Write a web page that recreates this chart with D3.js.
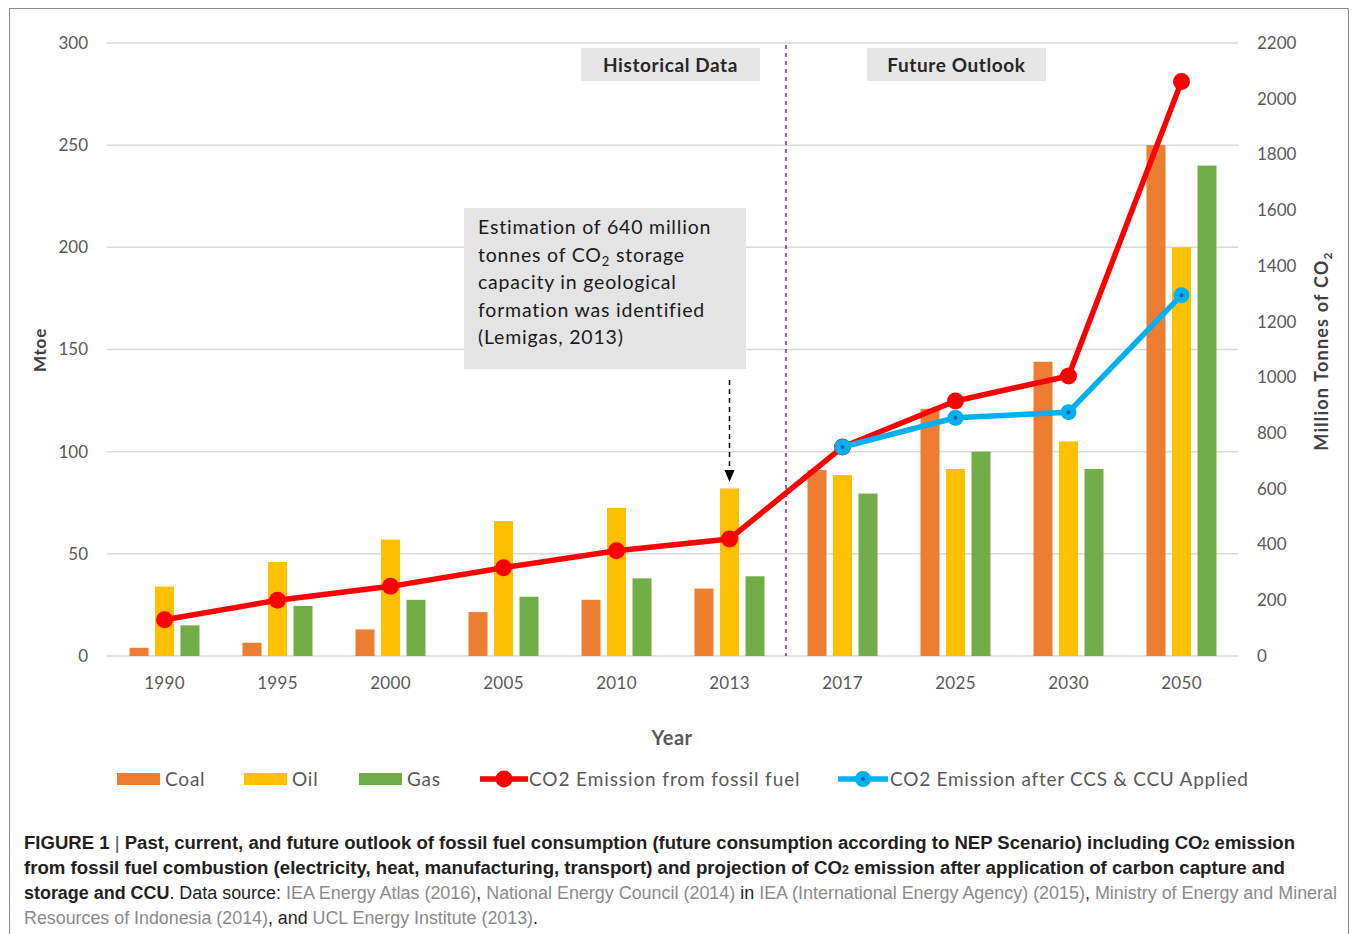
<!DOCTYPE html>
<html>
<head>
<meta charset="utf-8">
<script src="https://cdn.jsdelivr.net/npm/d3@7"></script>
<style>
  body { margin: 0; background: #fff; }
  svg text { font-family: Lato, "Open Sans", sans-serif; }
  .cap { font-family: "Liberation Sans", Arial, sans-serif !important; }
</style>
</head>
<body>
<div id="chart"></div>
<script>
// data
var years = ["1990", "1995", "2000", "2005", "2010", "2013", "2017", "2025", "2030", "2050"];
var coal = [4, 6.5, 13, 21.5, 27.5, 33, 91, 121, 144, 250];
var oil = [34, 46, 57, 66, 72.5, 82, 88.5, 91.5, 105, 200];
var gas = [15, 24.5, 27.5, 29, 38, 39, 79.5, 100, 91.5, 240];
var co2Fossil = [130, 200, 250, 317, 378, 420, 750, 915, 1005, 2062];
var co2Ccs = [null, null, null, null, null, null, 750, 855, 875, 1295];
var leftTicks = [0, 50, 100, 150, 200, 250, 300];
var rightTicks = [0, 200, 400, 600, 800, 1000, 1200, 1400, 1600, 1800, 2000, 2200];
var seriesNames = ["Coal", "Oil", "Gas"];
var seriesColors = {Coal: "#ED7D31", Oil: "#FFC000", Gas: "#70AD47"};

var W = 1358, H = 934;
var svg = d3.select("#chart").append("svg").attr("width", W).attr("height", H);

// outer frame
svg.append("path").attr("d", "M9.5,934 V8.5 H1348.5 V934")
  .attr("fill", "none").attr("stroke", "#8c8c8c").attr("stroke-width", 1);

var x = d3.scaleBand().domain(years).range([108, 1238]);
var xSub = d3.scaleBand().domain(seriesNames).range([-35, 35]).paddingInner(0.255);
var yL = d3.scaleLinear().domain([0, 300]).range([656, 43]);
var yR = d3.scaleLinear().domain([0, 2200]).range([656, 43]);

// gridlines
svg.append("g").selectAll("line").data(leftTicks).enter().append("line")
  .attr("x1", 107).attr("x2", 1238)
  .attr("y1", function (d) { return yL(d); }).attr("y2", function (d) { return yL(d); })
  .attr("stroke", "#d9d9d9").attr("stroke-width", 1.5);

// left axis
var axL = svg.append("g").attr("transform", "translate(96,0)")
  .call(d3.axisLeft(yL).tickValues(leftTicks).tickSize(0).tickPadding(8));
axL.select(".domain").remove();
axL.selectAll("text").attr("font-size", 17).attr("fill", "#595959").style("font-family", "Lato");

// right axis
var axR = svg.append("g").attr("transform", "translate(1249,0)")
  .call(d3.axisRight(yR).tickValues(rightTicks).tickFormat(d3.format("d")).tickSize(0).tickPadding(8));
axR.select(".domain").remove();
axR.selectAll("text").attr("font-size", 17).attr("fill", "#595959").style("font-family", "Lato");

// x axis
var axX = svg.append("g").attr("transform", "translate(0,660)")
  .call(d3.axisBottom(x).tickSize(0).tickPadding(17));
axX.select(".domain").remove();
axX.selectAll("text").attr("font-size", 17).attr("fill", "#595959").style("font-family", "Lato")
  .attr("letter-spacing", 0.3);

// bars
var barData = [];
years.forEach(function (yr, i) {
  barData.push({year: yr, s: "Coal", v: coal[i]});
  barData.push({year: yr, s: "Oil", v: oil[i]});
  barData.push({year: yr, s: "Gas", v: gas[i]});
});
svg.append("g").selectAll("rect").data(barData).enter().append("rect")
  .attr("x", function (d) { return x(d.year) + x.bandwidth() / 2 + xSub(d.s); })
  .attr("y", function (d) { return yL(d.v); })
  .attr("width", xSub.bandwidth())
  .attr("height", function (d) { return yL(0) - yL(d.v); })
  .attr("fill", function (d) { return seriesColors[d.s]; });

// divider historical / future
var divX = x("2017");
svg.append("line").attr("x1", divX).attr("x2", divX).attr("y1", 45).attr("y2", 656)
  .attr("stroke", "#7030A0").attr("stroke-width", 1.5).attr("stroke-dasharray", "4,4");

// header boxes
function headerBox(x0, w, label) {
  svg.append("rect").attr("x", x0).attr("y", 48).attr("width", w).attr("height", 33).attr("fill", "#e7e6e6");
  svg.append("text").attr("x", x0 + w / 2).attr("y", 72).attr("text-anchor", "middle")
    .attr("font-size", 19).attr("font-weight", "bold").attr("fill", "#262626")
    .attr("letter-spacing", 0.6).text(label);
}
headerBox(581, 179, "Historical  Data");
headerBox(867, 179, "Future Outlook");

// CO2 lines
var cx = function (d) { return x(d.year) + x.bandwidth() / 2; };
var fossilPts = years.map(function (yr, i) { return {year: yr, v: co2Fossil[i]}; });
var ccsPts = years.map(function (yr, i) { return {year: yr, v: co2Ccs[i]}; }).filter(function (d) { return d.v !== null; });
var line = d3.line().x(cx).y(function (d) { return yR(d.v); });

svg.append("path").datum(fossilPts).attr("d", line).attr("fill", "none")
  .attr("stroke", "#FF0000").attr("stroke-width", 5.5).attr("stroke-linejoin", "round");
svg.append("g").selectAll("circle").data(fossilPts).enter().append("circle")
  .attr("cx", cx).attr("cy", function (d) { return yR(d.v); }).attr("r", 8.5).attr("fill", "#FF0000");

svg.append("path").datum(ccsPts).attr("d", line).attr("fill", "none")
  .attr("stroke", "#00B0F0").attr("stroke-width", 5.5).attr("stroke-linejoin", "round");
var ccsG = svg.append("g");
ccsG.selectAll("circle.o").data(ccsPts).enter().append("circle")
  .attr("cx", cx).attr("cy", function (d) { return yR(d.v); }).attr("r", 8).attr("fill", "#00B0F0");
ccsG.selectAll("circle.i").data(ccsPts).enter().append("circle")
  .attr("cx", cx).attr("cy", function (d) { return yR(d.v); }).attr("r", 2).attr("fill", "#1f5fa0");

// annotation
svg.append("rect").attr("x", 464).attr("y", 208).attr("width", 282).attr("height", 161).attr("fill", "#e4e4e4");
var ann = svg.append("text").attr("font-size", 19.5).attr("fill", "#1a1a1a").attr("letter-spacing", 0.8);
ann.append("tspan").attr("x", 478).attr("y", 234).text("Estimation of 640 million");
var t2 = ann.append("tspan").attr("x", 478).attr("y", 262).text("tonnes of CO");
t2.append("tspan").attr("font-size", 13).attr("dy", 4).text("2");
t2.append("tspan").attr("dy", -4).text(" storage");
ann.append("tspan").attr("x", 478).attr("y", 289).text("capacity in geological");
ann.append("tspan").attr("x", 478).attr("y", 317).text("formation  was identified");
ann.append("tspan").attr("x", 478).attr("y", 344).text("(Lemigas, 2013)");

var arrowX = x("2013") + x.bandwidth() / 2;
svg.append("line").attr("x1", arrowX).attr("x2", arrowX).attr("y1", 380).attr("y2", 472)
  .attr("stroke", "#000").attr("stroke-width", 1.5).attr("stroke-dasharray", "5,4");
svg.append("path").attr("d", "M" + (arrowX - 5) + ",470 L" + (arrowX + 5) + ",470 L" + arrowX + ",482 Z").attr("fill", "#000");

// axis titles
svg.append("text").attr("transform", "translate(46,350) rotate(-90)").attr("text-anchor", "middle")
  .attr("font-size", 17).attr("font-weight", "bold").attr("fill", "#404040").attr("letter-spacing", 0.8).text("Mtoe");
var rt = svg.append("text").attr("transform", "translate(1328,351) rotate(-90)").attr("text-anchor", "middle")
  .attr("font-size", 18).attr("font-weight", "bold").attr("fill", "#404040").attr("letter-spacing", 1.2);
rt.append("tspan").text("Million  Tonnes of CO");
rt.append("tspan").attr("font-size", 12).attr("dy", 4).text("2");
svg.append("text").attr("x", 672).attr("y", 745).attr("text-anchor", "middle")
  .attr("font-size", 20).attr("font-weight", "bold").attr("fill", "#595959").attr("letter-spacing", 0.5).text("Year");

// legend
var lg = svg.append("g");
var legendRects = [{n: "Coal", x: 117}, {n: "Oil", x: 244}, {n: "Gas", x: 359}];
legendRects.forEach(function (d) {
  lg.append("rect").attr("x", d.x).attr("y", 773).attr("width", 43).attr("height", 12).attr("fill", seriesColors[d.n]);
  lg.append("text").attr("x", d.x + 48).attr("y", 786).attr("font-size", 19).attr("fill", "#595959")
    .attr("letter-spacing", 0.8).text(d.n);
});
lg.append("line").attr("x1", 480).attr("x2", 528).attr("y1", 779).attr("y2", 779).attr("stroke", "#FF0000").attr("stroke-width", 5.5);
lg.append("circle").attr("cx", 504).attr("cy", 779).attr("r", 8.5).attr("fill", "#FF0000");
lg.append("text").attr("x", 529).attr("y", 786).attr("font-size", 19).attr("fill", "#595959")
  .attr("letter-spacing", 0.9).text("CO2 Emission from fossil fuel");
lg.append("line").attr("x1", 838).attr("x2", 888).attr("y1", 779).attr("y2", 779).attr("stroke", "#00B0F0").attr("stroke-width", 5.5);
lg.append("circle").attr("cx", 863).attr("cy", 779).attr("r", 8).attr("fill", "#00B0F0");
lg.append("circle").attr("cx", 863).attr("cy", 779).attr("r", 2).attr("fill", "#1f5fa0");
lg.append("text").attr("x", 890).attr("y", 786).attr("font-size", 19).attr("fill", "#595959")
  .attr("letter-spacing", 0.75).text("CO2 Emission after CCS & CCU Applied");

// caption
function capLine(y, len, parts) {
  var t = svg.append("text").attr("class", "cap").attr("x", 24).attr("y", y)
    .attr("font-size", 18).attr("textLength", len).attr("lengthAdjust", "spacingAndGlyphs");
  parts.forEach(function (p) {
    var s = t.append("tspan").attr("fill", p.c || "#231f20").attr("font-weight", p.b ? "bold" : "normal").text(p.t);
    if (p.sub) s.attr("font-size", 12);
  });
}
var gray = "#8a8a8a";
capLine(849, 1271, [
  {t: "FIGURE 1", b: true}, {t: " | ", c: "#555"},
  {t: "Past, current, and future outlook of fossil fuel consumption (future consumption according to NEP Scenario) including CO", b: true},
  {t: "2", b: true, sub: true}, {t: " emission", b: true}
]);
capLine(874, 1261, [
  {t: "from fossil fuel combustion (electricity, heat, manufacturing, transport) and projection of CO", b: true},
  {t: "2", b: true, sub: true},
  {t: " emission after application of carbon capture and", b: true}
]);
capLine(899, 1313, [
  {t: "storage and CCU", b: true}, {t: ". Data source: "},
  {t: "IEA Energy Atlas (2016)", c: gray}, {t: ", "},
  {t: "National Energy Council (2014)", c: gray}, {t: " in "},
  {t: "IEA (International Energy Agency) (2015)", c: gray}, {t: ", "},
  {t: "Ministry of Energy and Mineral", c: gray}
]);
capLine(924, 514, [
  {t: "Resources of Indonesia (2014)", c: gray}, {t: ", and "},
  {t: "UCL Energy Institute (2013)", c: gray}, {t: "."}
]);
</script>
</body>
</html>
